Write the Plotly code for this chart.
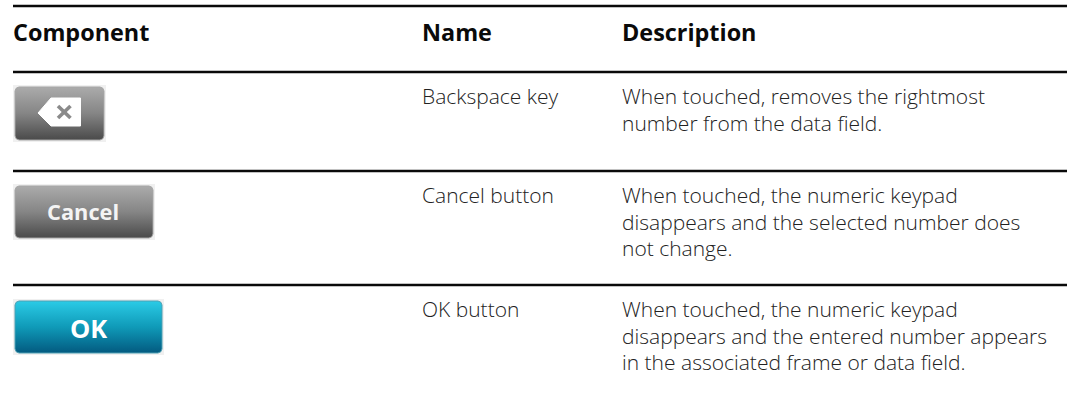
import plotly.graph_objects as go

W, H = 1067, 399
headers = ["Component", "Name", "Description"]
names = ["Backspace key", "Cancel button", "OK button"]
descriptions = [
    ["When touched, removes the rightmost", "number from the data field."],
    ["When touched, the numeric keypad", "disappears and the selected number does", "not change."],
    ["When touched, the numeric keypad", "disappears and the entered number appears", "in the associated frame or data field."],
]
button_labels = ["Cancel", "OK"]

FONT = "Open Sans"
fig = go.Figure()

def rrect(x0, y0, x1, y1, r=4):
    xs = [x0+r, x1-r, x1-r*.3, x1, x1, x1-r*.3, x1-r, x0+r, x0+r*.3, x0, x0, x0+r*.3, x0+r]
    ys = [y0, y0, y0+r*.3, y0+r, y1-r, y1-r*.3, y1, y1, y1-r*.3, y1-r, y0+r, y0+r*.3, y0]
    return xs, ys

def button(box, inner, edge, stops):
    x0, y0, x1, y1 = box
    fig.add_shape(type="rect", x0=x0, y0=y0, x1=x1, y1=y1, fillcolor="#f0f0f0", line_width=0, layer="below")
    xs, ys = rrect(*inner)
    fig.add_trace(go.Scatter(x=xs, y=ys, mode="lines", fill="toself",
                             line=dict(color=edge, width=1),
                             fillgradient=dict(type="vertical", colorscale=stops),
                             hoverinfo="skip", showlegend=False))

GREY = [[0, "#4a4a4a"], [0.5, "#858585"], [1, "#ababab"]]
TEAL = [[0, "#035a80"], [0.5, "#0f9ab8"], [1, "#2bcbe6"]]
button((13, 85, 106, 142), (15, 87, 104, 140), "#a5a5a5", GREY)
button((13, 184, 155, 240), (15, 186, 153, 238), "#a5a5a5", GREY)
button((13, 299, 164, 355), (15, 301, 162, 353), "#4d9fb3", TEAL)

# backspace glyph
fig.add_trace(go.Scatter(x=[38, 51, 80.5, 80.5, 51, 38], y=[113, 98, 98, 126, 126, 113], mode="lines",
                         fill="toself", fillcolor="#ffffff", line=dict(color="#ffffff", width=1),
                         hoverinfo="skip", showlegend=False))
for xx, yy in (([58, 70.5], [106, 118]), ([58, 70.5], [118, 106])):
    fig.add_trace(go.Scatter(x=xx, y=yy, mode="lines", line=dict(color="#8a8a8a", width=3.6),
                             hoverinfo="skip", showlegend=False))

# rules
for y in (6, 72, 171, 285):
    fig.add_shape(type="line", x0=13, x1=W, y0=y, y1=y, line=dict(color="#0a0a0a", width=2.6))

def label(x, y, text, size=21, color="#222222", weight=300, anchor="left"):
    fig.add_annotation(x=x, y=y, text=text, showarrow=False, xanchor=anchor, yanchor="middle",
                       align="left", borderpad=0,
                       font=dict(family=FONT, size=size, color=color, weight=weight))

for x, h in zip((12, 421, 621), headers):
    label(x, 32, h, size=23.4, color="#0a0a0a", weight=700)

row_y = (96, 195, 309)
for y, n, lines in zip(row_y, names, descriptions):
    label(421, y, n)
    for i, line in enumerate(lines):
        label(621, y + i * 26.7, line)

label(83, 211, button_labels[0], size=21.8, color="#f4f4f4", weight=700, anchor="center")
label(88, 328, button_labels[1], size=25.5, color="#ffffff", weight=700, anchor="center")

fig.update_layout(
    width=W, height=H, margin=dict(l=0, r=0, t=0, b=0),
    paper_bgcolor="#ffffff", plot_bgcolor="#ffffff", showlegend=False,
    xaxis=dict(range=[0, W], visible=False, fixedrange=True),
    yaxis=dict(range=[H, 0], visible=False, fixedrange=True),
)
fig.write_html("out.html", config={"displayModeBar": False},
               post_script="document.body.style.margin='0';document.body.style.overflow='hidden';")
